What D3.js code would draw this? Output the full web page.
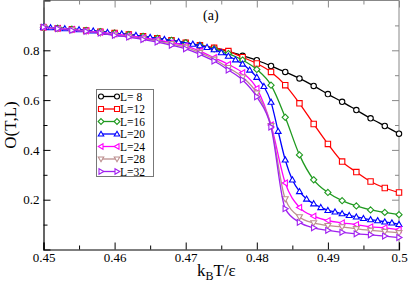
<!DOCTYPE html>
<html><head><meta charset="utf-8">
<script src="https://cdn.jsdelivr.net/npm/d3@7"></script>
<style>body{margin:0;background:#fff}svg{display:block}text{font-family:"Liberation Serif","DejaVu Serif",serif}</style>
</head><body>
<svg id="c" width="409" height="290"></svg>
<script>
const T2 = [0.450,0.452,0.454,0.456,0.458,0.460,0.462,0.464,0.466,0.468,0.470,0.472,0.474,0.476,0.478,0.480,0.482,0.484,0.486,0.488,0.490,0.492,0.494,0.496,0.498,0.500];
const T20 = [0.450,0.451,0.453,0.455,0.457,0.459,0.461,0.463,0.465,0.467,0.469,0.471,0.472,0.473,0.474,0.475,0.476,0.477,0.478,0.479,0.480,0.481,0.482,0.483,0.484,0.485,0.486,0.487,0.488,0.489,0.490,0.491,0.492,0.493,0.494,0.495,0.496,0.497,0.498,0.499,0.500];
const O8  = [.893,.889,.885,.880,.875,.869,.863,.856,.848,.840,.830,.820,.809,.796,.778,.760,.737,.713,.687,.657,.624,.593,.560,.527,.496,.465];
const O12 = [.893,.889,.885,.880,.875,.869,.863,.856,.848,.840,.830,.820,.810,.797,.772,.747,.713,.660,.587,.504,.424,.353,.311,.273,.247,.229];
const O16 = [.893,.889,.885,.880,.875,.869,.863,.856,.848,.840,.830,.820,.806,.787,.761,.723,.660,.531,.380,.280,.229,.196,.175,.159,.149,.140];
const O20 = [.893,.891,.887,.883,.878,.872,.866,.860,.852,.844,.835,.825,.819,.812,.803,.791,.777,.762,.745,.721,.692,.655,.592,.475,.360,.280,.233,.203,.184,.169,.157,.151,.144,.137,.131,.125,.120,.116,.111,.107,.101];
const O24 = [.893,.888,.884,.878,.872,.866,.859,.851,.842,.831,.818,.797,.770,.743,.710,.647,.500,.267,.169,.134,.116,.107,.100,.091,.087,.080];
const O28 = [.893,.887,.882,.876,.869,.862,.855,.846,.837,.826,.812,.791,.764,.730,.692,.628,.497,.203,.131,.107,.096,.091,.083,.077,.072,.067];
const O32 = [.893,.887,.880,.876,.869,.860,.853,.843,.833,.820,.806,.784,.757,.721,.681,.613,.492,.164,.109,.087,.077,.069,.063,.059,.054,.048];
const labels = ["L= 8","L=12","L=16","L=20","L=24","L=28","L=32"];
const colors = ["#000000","#ff0000","#1f9a1f","#0000ff","#ff00ff","#bc8f8f","#a020f0"];
const markers = ["circle","square","diamond","triUp","triLeft","triDown","triRight"];
const xTicks = [0.45,0.46,0.47,0.48,0.49,0.50];
const xTickLabels = ["0.45","0.46","0.47","0.48","0.49","0.5"];
const yTicks = [0.2,0.4,0.6,0.8];
const yTickLabels = ["0.2","0.4","0.6","0.8"];

const series = [
  {T:T2,O:O8},{T:T2,O:O12},{T:T2,O:O16},{T:T20,O:O20},{T:T2,O:O24},{T:T2,O:O28},{T:T2,O:O32}
];

const svg = d3.select("#c");
const x = d3.scaleLinear().domain([0.45,0.5]).range([43.5,399]);
const y = d3.scaleLinear().domain([0,1]).range([249.5,0.5]);
const FONT = "Liberation Serif, DejaVu Serif, serif";

function markerPath(type, s){
  const r = s;
  switch(type){
    case "circle": return d3.symbol(d3.symbolCircle, Math.PI*r*r)();
    case "square": return `M${-r},${-r}H${r}V${r}H${-r}Z`;
    case "diamond": return `M0,${-r*1.15}L${r*1.15},0L0,${r*1.15}L${-r*1.15},0Z`;
    case "triUp": return `M0,${-r*1.1}L${r*1.1},${r*0.8}L${-r*1.1},${r*0.8}Z`;
    case "triDown": return `M0,${r*1.1}L${r*1.1},${-r*0.8}L${-r*1.1},${-r*0.8}Z`;
    case "triLeft": return `M${-r*1.1},0L${r*0.8},${-r*1.1}L${r*0.8},${r*1.1}Z`;
    case "triRight": return `M${r*1.1},0L${-r*0.8},${-r*1.1}L${-r*0.8},${r*1.1}Z`;
  }
}

// axes frame
const g = svg.append("g");
g.append("line").attr("x1",399).attr("x2",399).attr("y1",0.5).attr("y2",249.5).attr("stroke","#888");
g.append("line").attr("x1",43.5).attr("x2",399).attr("y1",0.5).attr("y2",0.5).attr("stroke","#888");

const minorX = [0.455,0.465,0.475,0.485,0.495];
const minorY = [0.1,0.3,0.5,0.7,0.9];
const xAxis = d3.axisBottom(x).tickValues(xTicks).tickSize(-7).tickFormat((d,i)=>xTickLabels[i]).tickPadding(3);
svg.append("g").attr("transform","translate(0,249.5)").call(xAxis).attr("font-family",FONT);
svg.append("g").attr("transform","translate(0,249.5)").call(d3.axisBottom(x).tickValues(minorX).tickSize(-4).tickFormat("")).select(".domain").remove();
const yAxis = d3.axisLeft(y).tickValues(yTicks).tickSize(-7).tickFormat((d,i)=>yTickLabels[i]).tickPadding(4);
svg.append("g").attr("transform","translate(43.5,0)").call(yAxis).attr("font-family",FONT);
svg.append("g").attr("transform","translate(43.5,0)").call(d3.axisLeft(y).tickValues(minorY).tickSize(-4).tickFormat("")).select(".domain").remove();
// top & right ticks
[[d3.axisTop(x).tickValues(xTicks).tickSize(-7),"translate(0,0.5)"],
 [d3.axisTop(x).tickValues(minorX).tickSize(-4),"translate(0,0.5)"],
 [d3.axisRight(y).tickValues(yTicks).tickSize(-7),"translate(399,0)"],
 [d3.axisRight(y).tickValues(minorY).tickSize(-4),"translate(399,0)"]].forEach(([ax,tr])=>{
  const gg = svg.append("g").attr("transform",tr).call(ax.tickFormat(""));
  gg.select(".domain").remove();
  gg.selectAll("line").attr("stroke","#888");
});

svg.selectAll(".tick text").attr("font-size",13).attr("fill","#000").style("font-family",FONT);
svg.selectAll(".domain").attr("stroke","#000").attr("stroke-width",1.2);

const line = d3.line().x(d=>x(d[0])).y(d=>y(d[1])).curve(d3.curveMonotoneX);
series.forEach((s,i)=>{
  const pts = s.T.map((t,j)=>[t,s.O[j]]);
  const sg = svg.append("g");
  sg.append("path").attr("d",line(pts)).attr("fill","none").attr("stroke",colors[i]).attr("stroke-width",1.3);
  sg.selectAll("path.m").data(pts).join("path").attr("class","m")
    .attr("transform",d=>`translate(${x(d[0])},${y(d[1])})`)
    .attr("d",markerPath(markers[i],2.7)).attr("fill","#fff").attr("stroke",colors[i]).attr("stroke-width",1.1);
});

// legend
const lg = svg.append("g");
lg.append("rect").attr("x",96.5).attr("y",89.5).attr("width",57).attr("height",87).attr("fill","#fff").attr("stroke","#777").attr("stroke-width",1);
labels.forEach((lab,i)=>{
  const yy = 96.5 + i*12.5;
  lg.append("line").attr("x1",101).attr("x2",117).attr("y1",yy).attr("y2",yy).attr("stroke",colors[i]).attr("stroke-width",1.3);
  [101,117].forEach(xx=>lg.append("path").attr("transform",`translate(${xx},${yy})`).attr("d",markerPath(markers[i],2.5)).attr("fill","#fff").attr("stroke",colors[i]).attr("stroke-width",1.1));
  lg.append("text").attr("x",120).attr("y",yy+4).attr("font-size",11.5).style("font-family",FONT).text(lab);
});

svg.append("text").attr("x",203).attr("y",20).attr("font-size",14).style("font-family",FONT).text("(a)");
const xl = svg.append("text").attr("x",197).attr("y",276).attr("font-size",17).style("font-family",FONT);
xl.append("tspan").text("k");
xl.append("tspan").attr("font-size",12).attr("dy",4).text("B");
xl.append("tspan").attr("dy",-4).text("T/ε");
svg.append("text").attr("transform","translate(16,125) rotate(-90)").attr("text-anchor","middle").attr("font-size",17).style("font-family",FONT).text("O(T,L)");
</script>
</body></html>
